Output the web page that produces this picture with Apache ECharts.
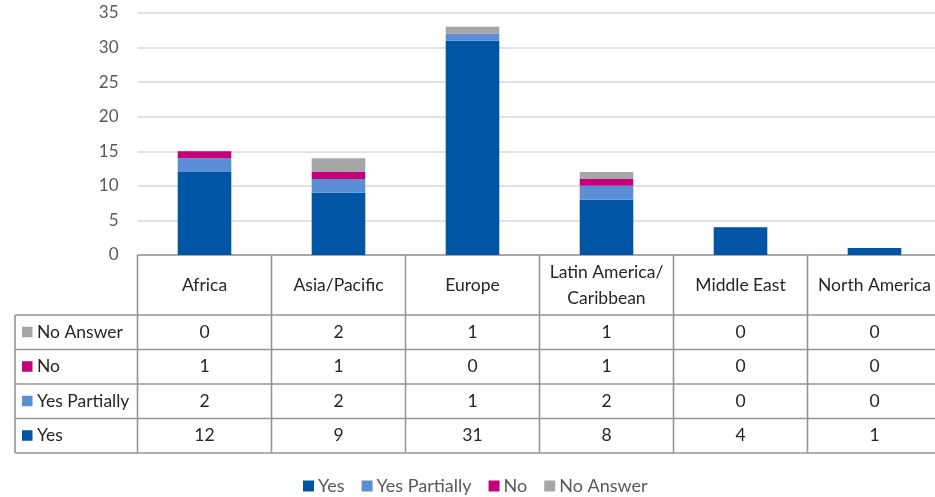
<!DOCTYPE html>
<html>
<head>
<meta charset="utf-8">
<script src="https://cdn.jsdelivr.net/npm/echarts@6/dist/echarts.min.js"></script>
<style>
  html, body { margin: 0; padding: 0; background: #fff; overflow: hidden; width: 935px; height: 497px; }
  #chart { width: 942px; height: 497px; }
</style>
</head>
<body>
<div id="chart"></div>
<script>
// Survey responses by region
const regions = ['Africa', 'Asia/Pacific', 'Europe', 'Latin America/\nCaribbean', 'Middle East', 'North America'];
const yes = [12, 9, 31, 8, 4, 1];
const yesPartially = [2, 2, 1, 2, 0, 0];
const no = [1, 1, 0, 1, 0, 0];
const noAnswer = [0, 2, 1, 1, 0, 0];
const yTicks = { min: 0, max: 35, interval: 5 };

const FONT = 'Lato, "Open Sans", sans-serif';
const seriesDefs = [
  { name: 'Yes', data: yes, color: '#0055A5' },
  { name: 'Yes Partially', data: yesPartially, color: '#5B8FD5' },
  { name: 'No', data: no, color: '#C4007A' },
  { name: 'No Answer', data: noAnswer, color: '#A6A6A6' }
];

const chart = echarts.init(document.getElementById('chart'));

chart.setOption({
  animation: false,
  textStyle: { fontFamily: FONT },
  grid: { left: 137.5, right: 0.5, top: 13, bottom: 242, containLabel: false },
  xAxis: {
    type: 'category',
    data: regions,
    axisLine: { show: false },
    axisTick: { show: false },
    axisLabel: { show: false }
  },
  yAxis: {
    type: 'value',
    min: yTicks.min,
    max: yTicks.max,
    interval: yTicks.interval,
    axisLine: { show: false },
    axisTick: { show: false },
    axisLabel: { color: '#595959', fontSize: 17, margin: 19, fontFamily: FONT },
    splitLine: { lineStyle: { color: '#D9D9D9', width: 1.5 } }
  },
  legend: {
    left: 298,
    top: 472,
    icon: 'rect',
    itemWidth: 11,
    itemHeight: 11,
    itemGap: 17,
    textStyle: { color: '#595959', fontSize: 18, fontFamily: FONT, padding: [0, 0, 0, -1] },
    data: seriesDefs.map(s => s.name)
  },
  series: seriesDefs.map(s => ({
    name: s.name,
    type: 'bar',
    stack: 'total',
    barWidth: '40%',
    data: s.data,
    itemStyle: { color: s.color }
  }))
});

// Data table under the plot, aligned with the category bands
function buildTable() {
  const centers = regions.map((_, i) => chart.convertToPixel({ xAxisIndex: 0 }, i));
  const colW = centers[1] - centers[0];
  const bounds = [centers[0] - colW / 2].concat(centers.map(c => c + colW / 2));
  const yTop = chart.convertToPixel({ yAxisIndex: 0 }, 0);
  const headerH = 60;
  const rowH = 34.5;
  const tableLeft = 15;
  const right = bounds[bounds.length - 1];
  const rows = seriesDefs.slice().reverse();
  const lineStyle = { stroke: '#959595', lineWidth: 1.6 };
  const font = '17.5px ' + FONT;
  const els = [];
  const rowTops = rows.map((_, r) => yTop + headerH + r * rowH);
  const yBottom = yTop + headerH + rows.length * rowH;

  // horizontal rules
  els.push({ type: 'line', shape: { x1: bounds[0], y1: yTop, x2: right, y2: yTop }, style: lineStyle });
  rowTops.concat([yBottom]).forEach(y => {
    els.push({ type: 'line', shape: { x1: tableLeft, y1: y, x2: right, y2: y }, style: lineStyle });
  });
  // vertical rules
  els.push({ type: 'line', shape: { x1: tableLeft, y1: yTop + headerH, x2: tableLeft, y2: yBottom }, style: lineStyle });
  bounds.forEach(x => {
    els.push({ type: 'line', shape: { x1: x, y1: yTop, x2: x, y2: yBottom }, style: lineStyle });
  });

  // header with region names
  centers.forEach((cx, i) => {
    els.push({
      type: 'text',
      x: cx, y: yTop + headerH / 2,
      style: {
        text: regions[i], fill: '#262626', font: font,
        align: 'center', verticalAlign: 'middle', lineHeight: 26
      }
    });
  });

  // series rows
  rows.forEach((s, r) => {
    const cy = rowTops[r] + rowH / 2;
    els.push({ type: 'rect', shape: { x: 22, y: cy - 5.5, width: 10.5, height: 10.5 }, style: { fill: s.color } });
    els.push({
      type: 'text', x: 37, y: cy,
      style: { text: s.name, fill: '#262626', font: font, align: 'left', verticalAlign: 'middle' }
    });
    s.data.forEach((v, i) => {
      els.push({
        type: 'text', x: centers[i], y: cy,
        style: { text: String(v), fill: '#262626', font: font, align: 'center', verticalAlign: 'middle' }
      });
    });
  });

  chart.setOption({ graphic: { elements: els } });
}

buildTable();
</script>
</body>
</html>
